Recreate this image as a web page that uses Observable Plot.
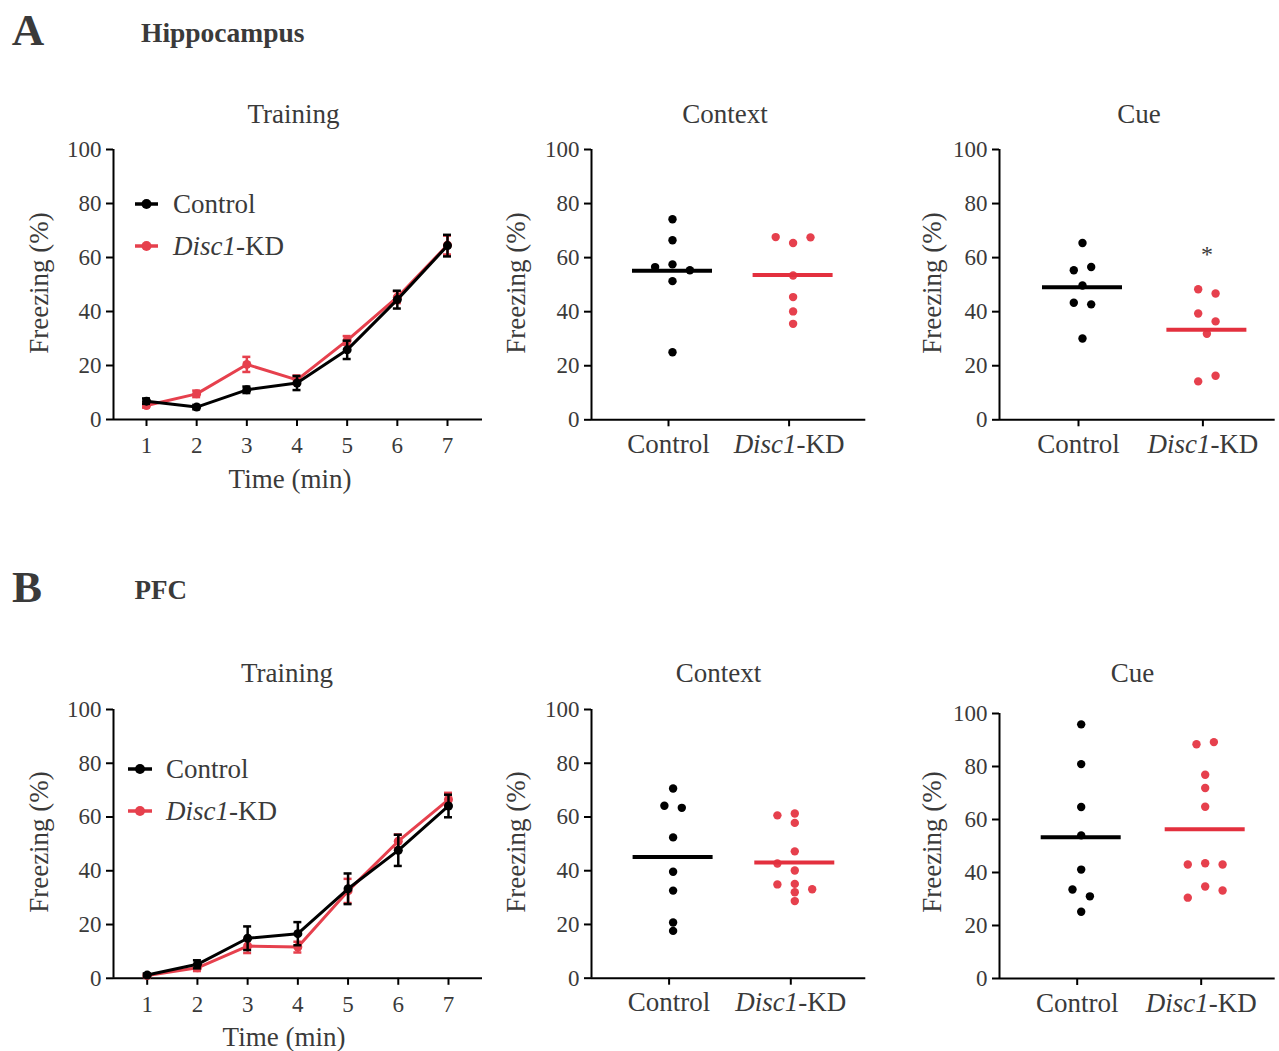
<!DOCTYPE html>
<html><head><meta charset="utf-8">
<script src="https://cdn.jsdelivr.net/npm/d3@7"></script>
<script src="https://cdn.jsdelivr.net/npm/@observablehq/plot@0.6"></script>
<style>
body{margin:0;background:#fff}
#fig{position:relative;width:1279px;height:1051px;overflow:hidden;font-family:"Liberation Serif","Times New Roman",serif;color:#3a3a3a;background:#fff}
#fig svg text, #fig svg tspan{font-family:"Liberation Serif","Times New Roman",serif !important;font-variant-numeric:normal !important}
.lbl{position:absolute;white-space:nowrap;line-height:1}
.plot{position:absolute}
</style></head><body><div id="fig"></div><script>
// ---------------- DATA ----------------
const minutes = [1, 2, 3, 4, 5, 6, 7];
const groups = ["Control", "Disc1-KD"];
const yTicks = [0, 20, 40, 60, 80, 100];

// A: Hippocampus, training (mean ± SEM)
const hipTrainCtrl    = [6.8, 4.6, 11.0, 13.5, 25.8, 44.4, 64.4];
const hipTrainCtrlSem = [1.0, 0.8, 1.2, 2.6, 3.4, 3.3, 4.0];
const hipTrainKD      = [5.2, 9.5, 20.4, 14.7, 29.3, 45.3, 64.6];
const hipTrainKDSem   = [0.8, 1.2, 2.8, 1.6, 1.6, 2.2, 3.5];

// A: Hippocampus, context / cue (individual animals; col = beeswarm column)
const hipCtxCtrl    = [74.2, 66.4, 57.5, 56.5, 55.3, 51.3, 25.0];
const hipCtxCtrlCol = [0, 0, 0, -2, 2, 0, 0];
const hipCtxKD      = [67.6, 67.5, 65.4, 53.4, 45.4, 40.1, 35.5];
const hipCtxKDCol   = [-2, 2, 0, 0, 0, 0, 0];
const hipCueCtrl    = [65.4, 55.3, 56.5, 49.7, 43.3, 42.7, 30.1];
const hipCueCtrlCol = [0, -1, 1, 0, -1, 1, 0];
const hipCueKD      = [48.3, 46.7, 39.3, 36.4, 31.8, 16.3, 14.2];
const hipCueKDCol   = [-1, 1, -1, 1, 0, 1, -1];

// B: PFC, training (mean ± SEM)
const pfcTrainCtrl    = [1.2, 5.2, 14.9, 16.6, 33.3, 47.6, 64.1];
const pfcTrainCtrlSem = [0.6, 1.5, 4.4, 4.3, 5.7, 5.8, 4.2];
const pfcTrainKD      = [1.0, 3.9, 12.0, 11.6, 32.5, 51.0, 66.5];
const pfcTrainKDSem   = [0.5, 1.2, 2.6, 2.0, 4.5, 2.5, 2.5];

// B: PFC, context / cue
const pfcCtxCtrl    = [70.6, 64.2, 63.4, 52.4, 39.6, 32.6, 20.7, 17.6];
const pfcCtxCtrlCol = [0, -1, 1, 0, 0, 0, 0, 0];
const pfcCtxKD      = [60.6, 61.3, 57.8, 47.2, 42.7, 40.1, 34.9, 35.1, 32.0, 33.1, 28.7];
const pfcCtxKDCol   = [-2, 0, 0, 0, -2, 0, -2, 0, 0, 2, 0];
const pfcCueCtrl    = [95.9, 80.9, 64.7, 54.0, 41.1, 33.6, 31.0, 25.2];
const pfcCueCtrlCol = [0, 0, 0, 0, 0, -1, 1, 0];
const pfcCueKD      = [88.4, 89.2, 76.9, 71.9, 64.8, 43.0, 43.5, 43.0, 34.7, 33.2, 30.5];
const pfcCueKDCol   = [-1, 1, 0, 0, 0, -2, 0, 2, 0, 2, -2];

// ---------------- STYLE ----------------
const FONT = '"Liberation Serif","Times New Roman",serif';
const TEXT = "#3a3a3a";
const BLACK = "#000000";
const RED = "#e6404d";
const RED_MEAN = "#e3303e";
const TICK_FS = 23, LABEL_FS = 27;

const fig = document.getElementById("fig");

function italicize(svg) {
  svg.querySelectorAll("text").forEach(t => {
    if (t.textContent === "Disc1-KD") {
      t.textContent = "";
      const ns = "http://www.w3.org/2000/svg";
      const a = document.createElementNS(ns, "tspan");
      a.setAttribute("font-style", "italic"); a.textContent = "Disc1";
      const b = document.createElementNS(ns, "tspan"); b.textContent = "-KD";
      t.append(a, b);
    }
  });
}

function mount(svg, left, top) {
  svg.classList.add("plot");
  svg.style.left = left + "px";
  svg.style.top = top + "px";
  italicize(svg);
  fig.appendChild(svg);
}

const ML = 70, MT = 8, MR = 6, MB = 60;

function axesMarks(dom, xTicks, xFmt, xFs, xPad, xDx) {
  return [
    Plot.axisY({ticks: yTicks, tickSize: 7, tickPadding: 5, fontSize: TICK_FS, label: null,
                stroke: BLACK, strokeWidth: 2, fill: TEXT, fontFamily: FONT}),
    Plot.axisX({ticks: xTicks, tickFormat: xFmt, tickSize: 7, tickPadding: xPad, fontSize: xFs,
                label: null, stroke: BLACK, strokeWidth: 2, fill: TEXT, dx: xDx, fontFamily: FONT}),
    Plot.ruleY([0], {stroke: BLACK, strokeWidth: 2}),
    Plot.ruleX([dom[0]], {y1: 0, y2: 100, stroke: BLACK, strokeWidth: 2})
  ];
}

function trainingPanel(g, series) {
  const W = g.right - g.axisX + ML + MR;
  const H = g.bottom - g.top + MT + MB;
  const unit = (g.t2 - g.t1) / 6;
  const dom = [1 - (g.t1 - g.axisX) / unit, 7 + (g.right - g.t2) / unit];
  const cap = 4 / unit;
  const marks = axesMarks(dom, minutes, d => String(d), TICK_FS, 10, 0);
  for (const s of series) {
    const rows = minutes.map((t, i) => ({t, v: s.mean[i], e: s.sem[i]}));
    marks.push(
      Plot.line(rows, {x: "t", y: "v", stroke: s.color, strokeWidth: 3}),
      Plot.ruleX(rows, {x: "t", y1: d => d.v - d.e, y2: d => d.v + d.e, stroke: s.color, strokeWidth: 2.5}),
      Plot.ruleY(rows, {y: d => d.v + d.e, x1: d => d.t - cap, x2: d => d.t + cap, stroke: s.color, strokeWidth: 2.5}),
      Plot.ruleY(rows, {y: d => d.v - d.e, x1: d => d.t - cap, x2: d => d.t + cap, stroke: s.color, strokeWidth: 2.5}),
      Plot.dot(rows, {x: "t", y: "v", r: 4.5, fill: s.color})
    );
  }
  const svg = Plot.plot({
    width: W, height: H, marginLeft: ML, marginTop: MT, marginRight: MR, marginBottom: MB,
    x: {domain: dom}, y: {domain: [0, 100]},
    style: {fontFamily: FONT, color: TEXT, background: "none", overflow: "visible"},
    marks
  });
  mount(svg, g.axisX - ML, g.top - MT);
}

function dotPanel(g, ctrl, ctrlCol, kd, kdCol, star) {
  const W = g.right - g.axisX + ML + MR;
  const H = g.bottom - g.top + MT + MB;
  const unit = g.t2 - g.t1;
  const dom = [1 - (g.t1 - g.axisX) / unit, 2 + (g.right - g.t2) / unit];
  const slot = 8.7 / unit, half = 40 / unit;
  const rc = ctrl.map((v, i) => ({g: 1, v, c: ctrlCol[i]}));
  const rk = kd.map((v, i) => ({g: 2, v, c: kdCol[i]}));
  const mc = [{g: 1, m: d3.mean(ctrl)}], mk = [{g: 2, m: d3.mean(kd)}];
  const marks = axesMarks(dom, [1, 2], d => groups[d - 1], LABEL_FS, 7, -4);
  marks.push(
    Plot.dot(rc, {x: d => d.g + d.c * slot, y: "v", r: 4.2, fill: BLACK}),
    Plot.dot(rk, {x: d => d.g + d.c * slot, y: "v", r: 4.2, fill: RED}),
    Plot.ruleY(mc, {y: "m", x1: d => d.g - half, x2: d => d.g + half, stroke: BLACK, strokeWidth: 4}),
    Plot.ruleY(mk, {y: "m", x1: d => d.g - half, x2: d => d.g + half, stroke: RED_MEAN, strokeWidth: 4})
  );
  if (star) {
    marks.push(Plot.text([{g: 2, y: d3.max(kd) + 13}], {x: "g", y: "y", text: () => "*",
      fontSize: 24, fill: TEXT, fontFamily: FONT}));
  }
  const svg = Plot.plot({
    width: W, height: H, marginLeft: ML, marginTop: MT, marginRight: MR, marginBottom: MB,
    x: {domain: dom}, y: {domain: [0, 100]},
    style: {fontFamily: FONT, color: TEXT, background: "none", overflow: "visible"},
    marks
  });
  mount(svg, g.axisX - ML, g.top - MT);
}

// ---------------- LAYOUT ----------------
trainingPanel({axisX: 113, top: 149, bottom: 419, right: 482, t1: 146, t2: 447}, [
  {mean: hipTrainKD, sem: hipTrainKDSem, color: RED},
  {mean: hipTrainCtrl, sem: hipTrainCtrlSem, color: BLACK}
]);
dotPanel({axisX: 590.7, top: 149, bottom: 419.3, right: 865, t1: 671.7, t2: 792.3},
  hipCtxCtrl, hipCtxCtrlCol, hipCtxKD, hipCtxKDCol, false);
dotPanel({axisX: 999.3, top: 149, bottom: 419.3, right: 1275, t1: 1082.3, t2: 1206.7},
  hipCueCtrl, hipCueCtrlCol, hipCueKD, hipCueKDCol, true);

trainingPanel({axisX: 113, top: 708.5, bottom: 977.3, right: 482, t1: 146.7, t2: 448}, [
  {mean: pfcTrainKD, sem: pfcTrainKDSem, color: RED},
  {mean: pfcTrainCtrl, sem: pfcTrainCtrlSem, color: BLACK}
]);
dotPanel({axisX: 590.7, top: 709, bottom: 977.7, right: 865, t1: 672.3, t2: 794},
  pfcCtxCtrl, pfcCtxCtrlCol, pfcCtxKD, pfcCtxKDCol, false);
dotPanel({axisX: 999.3, top: 712.7, bottom: 977.7, right: 1275, t1: 1081, t2: 1205},
  pfcCueCtrl, pfcCueCtrlCol, pfcCueKD, pfcCueKDCol, false);

// ---------------- TEXT ----------------
function label(html, x, cy, {size = LABEL_FS, weight = "normal", anchor = "middle", rotate = 0} = {}) {
  const d = document.createElement("div");
  d.className = "lbl";
  d.innerHTML = html;
  d.style.fontSize = size + "px";
  d.style.fontWeight = weight;
  d.style.left = x + "px";
  d.style.top = cy + "px";
  const tx = anchor === "middle" ? "-50%" : "0";
  d.style.transform = `translate(${tx},-50%)` + (rotate ? ` rotate(${rotate}deg)` : "");
  if (rotate) d.style.transformOrigin = "50% 50%";
  fig.appendChild(d);
}
const KD = "<i>Disc1</i>-KD";

label("A", 28, 30, {size: 45, weight: "bold"});
label("Hippocampus", 141, 33, {size: 27.5, weight: "bold", anchor: "start"});
label("B", 27, 587, {size: 45, weight: "bold"});
label("PFC", 134.5, 590, {size: 27, weight: "bold", anchor: "start"});

label("Training", 293.5, 114); label("Context", 725, 114); label("Cue", 1139, 114);
label("Training", 287, 673); label("Context", 718.5, 673); label("Cue", 1132.5, 673);

label("Time (min)", 290, 479); label("Time (min)", 284, 1037);

for (const [x, y] of [[39, 283], [516, 283], [932, 283], [39, 842], [516, 842], [932, 842]]) {
  label("Freezing (%)", x, y, {rotate: -90});
}

// legends
function legendRow(x1, x2, cy, color, textX, html) {
  const w = x2 - x1;
  const d = document.createElement("div");
  d.className = "lbl";
  d.style.left = x1 + "px"; d.style.top = (cy - 7) + "px";
  d.innerHTML = `<svg width="${w}" height="14" style="display:block;overflow:visible">
    <line x1="0" x2="${w}" y1="7" y2="7" stroke="${color}" stroke-width="3.5"/>
    <circle cx="${w / 2}" cy="7" r="5" fill="${color}"/></svg>`;
  fig.appendChild(d);
  label(html, textX, cy, {anchor: "start"});
}
legendRow(135, 158, 204, BLACK, 173, groups[0]);
legendRow(135, 158, 245.5, RED, 173, KD);
legendRow(128, 152, 769, BLACK, 166, groups[0]);
legendRow(128, 152, 810.5, RED, 166, KD);
</script></body></html>
